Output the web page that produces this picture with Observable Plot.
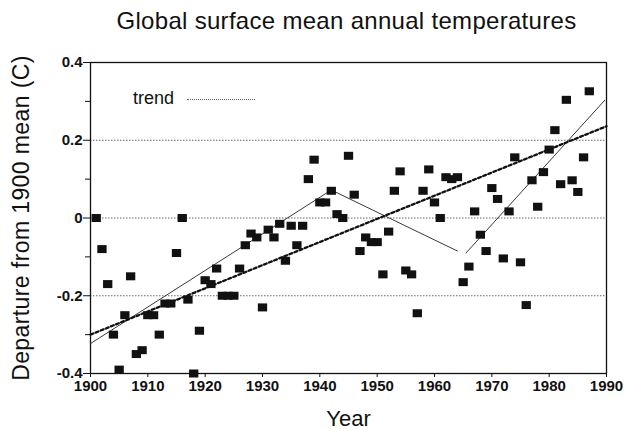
<!DOCTYPE html>
<html><head><meta charset="utf-8">
<script src="https://cdn.jsdelivr.net/npm/d3@7"></script>
<script src="https://cdn.jsdelivr.net/npm/@observablehq/plot@0.6"></script>
<style>
body{margin:0;background:#fff;font-family:"Liberation Sans",Arial,sans-serif;}
#wrap{position:relative;width:628px;height:429px;}
#title{position:absolute;left:346.5px;top:9px;transform:translateX(-50%);white-space:nowrap;font-size:24px;line-height:24px;letter-spacing:0.3px;color:#111;}
#legend{position:absolute;left:133px;top:89px;font-size:18px;line-height:18px;color:#111;}
#legline{position:absolute;left:187px;top:99px;width:68px;border-top:1px dotted #666;}
g[aria-label="y-axis tick label"] text, g[aria-label="x-axis tick label"] text{font-weight:bold;}
g[aria-label="y-axis label"] text{font-size:23px;letter-spacing:0.4px;font-weight:normal;}
g[aria-label="x-axis label"] text{font-size:22px;font-weight:normal;}
</style>
</head><body>
<div id="wrap">
<div id="chart"></div>
<div id="title">Global surface mean annual temperatures</div>
<div id="legend">trend</div>
<div id="legline"></div>
</div>
<script>
const years = [1901,1902,1903,1904,1905,1906,1907,1908,1909,1910,
1911,1912,1913,1914,1915,1916,1917,1918,1919,1920,
1921,1922,1923,1924,1925,1926,1927,1928,1929,1930,
1931,1932,1933,1934,1935,1936,1937,1938,1939,1940,
1941,1942,1943,1944,1945,1946,1947,1948,1949,1950,
1951,1952,1953,1954,1955,1956,1957,1958,1959,1960,
1961,1962,1963,1964,1965,1966,1967,1968,1969,1970,
1971,1972,1973,1974,1975,1976,1977,1978,1979,1980,
1981,1982,1983,1984,1985,1986,1987];
const temps = [0.00,-0.08,-0.17,-0.30,-0.39,-0.25,-0.15,-0.35,-0.34,-0.25,
-0.25,-0.30,-0.22,-0.22,-0.09,0.00,-0.21,-0.40,-0.29,-0.16,
-0.17,-0.13,-0.20,-0.20,-0.20,-0.13,-0.07,-0.04,-0.05,-0.23,
-0.03,-0.05,-0.015,-0.11,-0.02,-0.07,-0.02,0.10,0.15,0.04,
0.04,0.07,0.01,0.00,0.16,0.06,-0.085,-0.05,-0.062,-0.062,
-0.145,-0.035,0.07,0.12,-0.135,-0.145,-0.245,0.07,0.125,0.04,
0.00,0.105,0.10,0.105,-0.165,-0.125,0.017,-0.043,-0.085,0.077,
0.049,-0.104,0.017,0.156,-0.114,-0.224,0.097,0.029,0.118,0.176,
0.226,0.087,0.304,0.097,0.067,0.156,0.326];

// linear trend (bold dashed)
const trendYears = [1900, 1990];
const trendValues = [-0.30, 0.236];
// piecewise thin trend lines
const pieceYears = [1900, 1942, 1964, 1965.5, 1989.7];
const pieceValues = [-0.323, 0.072, -0.085, -0.09, 0.303];
const pieceGroup = ["a", "a", "a", "b", "b"];

const xTicks = [1900,1910,1920,1930,1940,1950,1960,1970,1980,1990];
const yTicks = [-0.4,-0.2,0,0.2,0.4];
const yMinorTicks = [-0.3,-0.1,0.1,0.3];
const gridValues = [-0.2,0,0.2];

const data = years.map((y,i)=>({year:y, temp:temps[i]}));
const trend = trendYears.map((y,i)=>({year:y, temp:trendValues[i]}));
const pieces = pieceYears.map((y,i)=>({year:y, temp:pieceValues[i], g:pieceGroup[i]}));

const rectSymbol = {
  draw(context, size){
    const r = Math.sqrt(size/Math.PI);
    context.rect(-0.93*r, -0.8*r, 1.86*r, 1.6*r);
  }
};

const fmtY = d => d === 0 ? "0" : d.toFixed(1);

const chart = Plot.plot({
  width: 628,
  height: 429,
  marginTop: 62,
  marginLeft: 90,
  marginRight: 22,
  marginBottom: 56,
  style: {fontFamily: "'Liberation Sans', Arial, sans-serif", background: "white", color: "#111"},
  x: {domain: [1900, 1990]},
  y: {domain: [-0.4, 0.4]},
  marks: [
    Plot.ruleY(gridValues, {stroke: "#555", strokeWidth: 0.9, strokeDasharray: "1.5,1.5"}),
    Plot.frame({stroke: "#111", strokeWidth: 1.3}),
    Plot.line(pieces, {x: "year", y: "temp", z: "g", stroke: "#222", strokeWidth: 0.9}),
    Plot.line(trend, {x: "year", y: "temp", stroke: "#111", strokeWidth: 2.3, strokeDasharray: "3,2.5"}),
    Plot.dot(data, {x: "year", y: "temp", symbol: rectSymbol, r: 5, fill: "#111", stroke: "none"}),
    Plot.axisY(yTicks, {tickSize: 7, tickPadding: 1, tickFormat: fmtY, fontSize: 15, stroke: "#111",
      label: "Departure from 1900 mean (C)", labelAnchor: "center", labelArrow: "none", labelOffset: 78}),
    Plot.axisY(yMinorTicks, {tickSize: 5, tickFormat: () => "", label: null, stroke: "#111"}),
    Plot.axisX(xTicks, {tickSize: 4, tickPadding: 3, tickFormat: "d", fontSize: 15, stroke: "#111",
      label: "Year", labelAnchor: "center", labelArrow: "none", labelOffset: 52})
  ]
});
document.getElementById("chart").appendChild(chart);
</script>
</body></html>
